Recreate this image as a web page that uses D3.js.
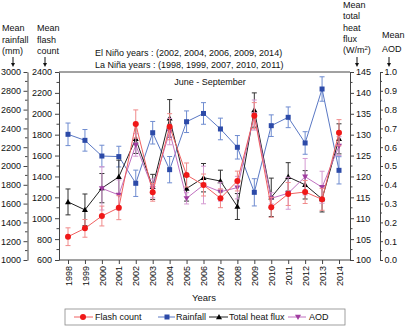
<!DOCTYPE html>
<html><head><meta charset="utf-8">
<script src="https://cdn.jsdelivr.net/npm/d3@7"></script>
<style>
body{margin:0;background:#fff}
svg{display:block;font-family:"Liberation Sans",Arial,sans-serif}
</style></head><body>
<svg id="c" width="405" height="327"></svg>
<script>
const years = [1998,1999,2000,2001,2002,2003,2004,2005,2006,2007,2008,2009,2010,2011,2012,2013,2014];
const flash = [823, 903, 1021, 1101, 1902, 1248, 1876, 1414, 1318, 1191, 1356, 1982, 1104, 1232, 1251, 1181, 1819];
const flashErr = [85, 85, 95, 115, 135, 85, 125, 115, 105, 90, 95, 125, 95, 110, 110, 105, 125];
const rain = [2337, 2273, 2106, 2100, 1816, 2354, 1961, 2471, 2559, 2394, 2199, 1720, 2429, 2518, 2245, 2819, 1954];
const rainErr = [120, 115, 115, 110, 140, 120, 140, 115, 115, 115, 125, 145, 115, 110, 120, 130, 145];
const heat = [113.9, 112, 117.2, 119.9, 129, 117.5, 133.9, 117.1, 119.7, 118.9, 112.8, 135.9, 115, 119.9, 118, 114.6, 129];
const heatErr = [3.1, 3.8, 3.5, 4, 3.5, 3, 4.5, 3, 3.4, 2.6, 3.1, 4.1, 4.6, 3.4, 3.4, 3.1, 3.6];
const aod = [null, null, 0.381, 0.346, 0.612, 0.381, 0.683, 0.328, 0.399, 0.363, 0.385, 0.771, 0.328, 0.355, 0.443, 0.387, 0.606];
const aodErr = [null, null, 0.115, 0.08, 0.06, 0.05, 0.07, 0.03, 0.1, 0.05, 0.06, 0.08, 0.03, 0.085, 0.097, 0.085, 0.05];
const flashTicks = [600,800,1000,1200,1400,1600,1800,2000,2200,2400];
const rainTicks = [1000,1200,1400,1600,1800,2000,2200,2400,2600,2800,3000];
const heatTicks = [100,105,110,115,120,125,130,135,140,145];
const aodTicks = [0,0.1,0.2,0.3,0.4,0.5,0.6,0.7,0.8,0.9,1.0];
const elNino = "El Niño years : (2002, 2004, 2006, 2009, 2014)";
const laNina = "La Niña years : (1998, 1999, 2007, 2010, 2011)";

const svg = d3.select("#c");
const L = 59, R = 350, T = 72, B = 260;
const x = d3.scalePoint().domain(years).range([68, 339]);
const yF = d3.scaleLinear().domain([600, 2400]).range([B, T]);
const yR = d3.scaleLinear().domain([1000, 3000]).range([B, T]);
const yH = d3.scaleLinear().domain([100, 145]).range([B, T]);
const yA = d3.scaleLinear().domain([0, 1]).range([B, T]);
const axC = "#444";
const fmtInt = d3.format("d");

function styleAxis(g){
  g.selectAll("path").attr("stroke", axC);
  g.selectAll("line").attr("stroke", axC);
  g.selectAll("text").attr("fill","#111").style("font-size","9px");
}
function minor(g, scale, vals, orient, len){
  vals.forEach(v=>{
    const y = scale(v);
    g.append("line").attr("x1",0).attr("x2", orient==="left"?-len:len)
      .attr("y1",y).attr("y2",y).attr("stroke",axC);
  });
}
const range = (a,b,s)=>{const r=[];for(let v=a;v<=b+1e-9;v+=s)r.push(+v.toFixed(4));return r;};

// frame top
svg.append("line").attr("x1",L).attr("x2",R).attr("y1",T).attr("y2",T).attr("stroke",axC);

const gF = svg.append("g").attr("transform",`translate(${L},0)`)
  .call(d3.axisLeft(yF).tickValues(flashTicks).tickFormat(fmtInt).tickSize(4).tickPadding(3).tickSizeOuter(0));
styleAxis(gF); minor(gF, yF, range(700,2300,200), "left", 2.5);
const gR = svg.append("g").attr("transform",`translate(27.5,0)`)
  .call(d3.axisLeft(yR).tickValues(rainTicks).tickFormat(fmtInt).tickSize(4).tickPadding(2.5).tickSizeOuter(0));
styleAxis(gR); minor(gR, yR, range(1100,2900,200), "left", 2.5);
const gH = svg.append("g").attr("transform",`translate(${R},0)`)
  .call(d3.axisRight(yH).tickValues(heatTicks).tickFormat(fmtInt).tickSize(4).tickPadding(2).tickSizeOuter(0));
styleAxis(gH); minor(gH, yH, range(102.5,142.5,5), "right", 2.5);
const gA = svg.append("g").attr("transform",`translate(380,0)`)
  .call(d3.axisRight(yA).tickValues(aodTicks).tickFormat(d3.format(".1f")).tickSize(3).tickPadding(1.5).tickSizeOuter(0));
styleAxis(gA); minor(gA, yA, range(0.05,0.95,0.1), "right", 2);
const gX = svg.append("g").attr("transform",`translate(0,${B})`)
  .call(d3.axisBottom(x).tickFormat(fmtInt).tickSize(4).tickSizeOuter(0));
gX.select("path").attr("d",`M${L},0H${R}`);
styleAxis(gX);
gX.selectAll("text").attr("transform","rotate(-90)").attr("text-anchor","end")
  .attr("x",-6).attr("y",0).attr("dy","0.35em");

function series(vals, errs, y, lineC, errC, markC, shape){
  const pts = years.map((yr,i)=>({yr, v:vals[i], e:errs[i]})).filter(d=>d.v!=null);
  const g = svg.append("g");
  pts.forEach(d=>{
    const cx = x(d.yr), y1 = y(d.v+d.e), y2 = y(d.v-d.e);
    g.append("line").attr("x1",cx).attr("x2",cx).attr("y1",y1).attr("y2",y2).attr("stroke",errC).attr("stroke-width",1);
    [y1,y2].forEach(yy=>g.append("line").attr("x1",cx-2.5).attr("x2",cx+2.5).attr("y1",yy).attr("y2",yy).attr("stroke",errC).attr("stroke-width",1));
  });
  g.append("path").datum(pts).attr("fill","none").attr("stroke",lineC).attr("stroke-width",1)
    .attr("d", d3.line().x(d=>x(d.yr)).y(d=>y(d.v)));
  pts.forEach(d=>drawMarker(g, x(d.yr), y(d.v), shape, markC));
}
function drawMarker(g, cx, cy, shape, c){
  if(shape==="circle") g.append("circle").attr("cx",cx).attr("cy",cy).attr("r",3).attr("fill",c);
  else if(shape==="square") g.append("rect").attr("x",cx-2.5).attr("y",cy-2.5).attr("width",5).attr("height",5).attr("fill",c);
  else if(shape==="up") g.append("path").attr("d",`M${cx},${cy-3}L${cx+3},${cy+2.2}L${cx-3},${cy+2.2}Z`).attr("fill",c);
  else g.append("path").attr("d",`M${cx},${cy+3}L${cx+3},${cy-2.2}L${cx-3},${cy-2.2}Z`).attr("fill",c);
}
series(rain, rainErr, yR, "#5a78c4", "#6f8cd0", "#2c4aa8", "square");
series(heat, heatErr, yH, "#222", "#333", "#000", "up");
series(aod, aodErr, yA, "#c070c0", "#d49ad2", "#a03ca0", "down");
series(flash, flashErr, yF, "#f06060", "#f08a8a", "#f01818", "circle");

function txt(s, xx, yy, opts={}){
  const t = svg.append("text").attr("x",xx).attr("y",yy).text(s)
    .style("font-size",(opts.size||9)+"px").attr("fill","#111");
  if(opts.anchor) t.attr("text-anchor",opts.anchor);
  return t;
}
function arrow(xx, y1, y2){
  svg.append("line").attr("x1",xx).attr("x2",xx).attr("y1",y1).attr("y2",y2-3).attr("stroke","#111");
  svg.append("path").attr("d",`M${xx-2},${y2-4}L${xx+2},${y2-4}L${xx},${y2}Z`).attr("fill","#111");
}
["Mean","rainfall","(mm)"].forEach((s,i)=>txt(s,2,31+i*11.5));
["Mean","flash","count"].forEach((s,i)=>txt(s,37,31+i*11.5));
arrow(13,57,67); arrow(45,57,67);
["Mean","total","heat","flux"].forEach((s,i)=>txt(s,343,8+i*11.3));
const wl = txt("(W/m",343,53);
wl.append("tspan").text("2").attr("dy",-3).style("font-size","6px");
wl.append("tspan").text(")").attr("dy",3);
["Mean","AOD"].forEach((s,i)=>txt(s,382,38+i*13.5));
arrow(357,57,67); arrow(389,57,67);
txt(elNino, 95, 56);
txt(laNina, 95, 67.5);
txt("June - September", 210, 84.5, {anchor:"middle"});
txt("Years", 204, 301, {anchor:"middle", size:9.5});

svg.append("rect").attr("x",65).attr("y",309).attr("width",280).attr("height",16)
  .attr("fill","#fff").attr("stroke","#888").attr("stroke-width",0.8);
const leg = [
  {name:"Flash count", x1:74, x2:93, mx:83, tx:95, line:"#f06060", mark:"#f01818", shape:"circle"},
  {name:"Rainfall", x1:158, x2:175, mx:167, tx:176, line:"#5a78c4", mark:"#2c4aa8", shape:"square"},
  {name:"Total heat flux", x1:209, x2:228, mx:219, tx:229, line:"#222", mark:"#000", shape:"up"},
  {name:"AOD", x1:288, x2:306, mx:298, tx:309, line:"#c070c0", mark:"#a03ca0", shape:"down"}
];
const lg = svg.append("g");
leg.forEach(d=>{
  lg.append("line").attr("x1",d.x1).attr("x2",d.x2).attr("y1",317).attr("y2",317).attr("stroke",d.line);
  drawMarker(lg, d.mx, 317, d.shape, d.mark);
  txt(d.name, d.tx, 320.3);
});
</script>
</body></html>
